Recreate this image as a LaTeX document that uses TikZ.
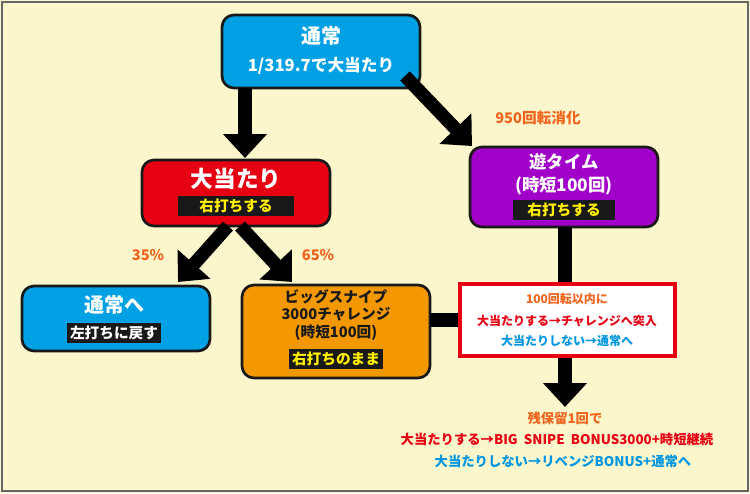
\documentclass[tikz,border=0pt]{standalone}
\usepackage{fontspec}
\setmainfont{Noto Sans CJK JP}
\usetikzlibrary{arrows.meta}
\definecolor{bgYellow}{RGB}{252,246,204}
\definecolor{boxBlue}{RGB}{0,160,228}
\definecolor{boxRed}{RGB}{230,0,18}
\definecolor{boxPurple}{RGB}{160,0,200}
\definecolor{boxOrange}{RGB}{243,152,0}
\definecolor{txtOrange}{RGB}{240,100,30}
\definecolor{txtRed}{RGB}{230,0,18}
\definecolor{txtBlue}{RGB}{0,150,225}
\definecolor{txtYellow}{RGB}{255,240,0}

\begin{document}
\begin{tikzpicture}[x=0.75pt,y=-0.75pt,
  box/.style={rounded corners=9pt,draw=black!90,line width=2pt},
  tag/.style={fill=black!90,inner sep=2pt,font=\bfseries\fontsize{11}{12}\selectfont},
  title/.style={font=\bfseries\fontsize{15}{16}\selectfont,align=center},
  note/.style={font=\bfseries\fontsize{9}{10}\selectfont,inner sep=0pt},
  flow/.style={line width=10pt,-{Triangle[length=18pt,width=32pt]}},
  link/.style={line width=10pt}]

% background and frame
\fill[bgYellow] (0,0) rectangle (750,493);
\draw[black!60,line width=1pt] (2,2) rectangle (748,491);

% boxes
\draw[box,fill=boxBlue] (222,15) rectangle (420,88);
\node[title,text=white] (normal) at (321,36) {通常};
\node[title,text=white,font=\bfseries\fontsize{12.5}{14}\selectfont] (normalProb) at (321,66) {1/319.7で大当たり};

\draw[box,fill=boxRed] (142,160) rectangle (330,226);
\node[title,text=white,font=\bfseries\fontsize{17}{18}\selectfont] (bigHit) at (236,179) {大当たり};
\node[tag,text=txtYellow,minimum width=87pt] (bigHitTag) at (236,206) {右打ちする};

\draw[box,fill=boxPurple] (470,147) rectangle (658,227);
\node[title,text=white,font=\bfseries\fontsize{13}{17}\selectfont] (yuTime) at (564,174) {遊タイム\\(時短100回)};
\node[tag,text=txtYellow,minimum width=76pt] (yuTimeTag) at (564,210) {右打ちする};

\draw[box,fill=boxBlue] (22,286) rectangle (210,351);
\node[title,text=white] (backNormal) at (114,305) {通常へ};
\node[tag,text=white] (backNormalTag) at (114,333) {左打ちに戻す};

\draw[box,fill=boxOrange] (242,285) rectangle (430,378);
\node[title,text=black!90,font=\bfseries\fontsize{11}{13}\selectfont] (snipe) at (336,315) {ビッグスナイプ\\3000チャレンジ\\(時短100回)};
\node[tag,text=txtYellow] (snipeTag) at (336,359) {右打ちのまま};

\draw[txtRed,fill=white,line width=3pt] (460,284) rectangle (675,356);
\node[note,text=txtOrange] (within) at (567,299) {100回転以内に};
\node[note,text=txtRed] (withinHit) at (567,321) {大当たりする→チャレンジへ突入};
\node[note,text=txtBlue] (withinMiss) at (567,341) {大当たりしない→通常へ};

% connectors
\coordinate (yuDown) at (565,227);
\coordinate (redTop) at (565,282);
\coordinate (redBottom) at (565,358);
\coordinate (result) at (565,407);
\coordinate (snipeRight) at (430,320);
\coordinate (redLeft) at (458,320);
\draw[flow] (245,88) -- (245,158);
\draw[flow] (405,76) -- (472,146);
\draw[flow] (228,226) -- (178,282);
\draw[flow] (240,226) -- (292,282);
\draw[link] (yuDown) -- (redTop);
\draw[link] (snipeRight) -- (redLeft);
\draw[flow] (redBottom) -- (result);

% labels
\node[note,text=txtOrange,font=\bfseries\fontsize{11}{12}\selectfont] (turns) at (538,118) {950回転消化};
\node[note,text=txtOrange,font=\bfseries\fontsize{11}{12}\selectfont] (pctLeft) at (148,255) {35\%};
\node[note,text=txtOrange,font=\bfseries\fontsize{11}{12}\selectfont] (pctRight) at (318,255) {65\%};
\node[note,text=txtOrange,font=\bfseries\fontsize{10}{11}\selectfont] (lastHold) at (565,418) {残保留1回で};
\node[note,text=txtRed,font=\bfseries\fontsize{10}{11}\selectfont] (lastHit) at (557,439) {大当たりする→BIG\ \ SNIPE\ \ BONUS3000+時短継続};
\node[note,text=txtBlue,font=\bfseries\fontsize{10}{11}\selectfont] (lastMiss) at (563,461) {大当たりしない→リベンジBONUS+通常へ};
\end{tikzpicture}
\end{document}
